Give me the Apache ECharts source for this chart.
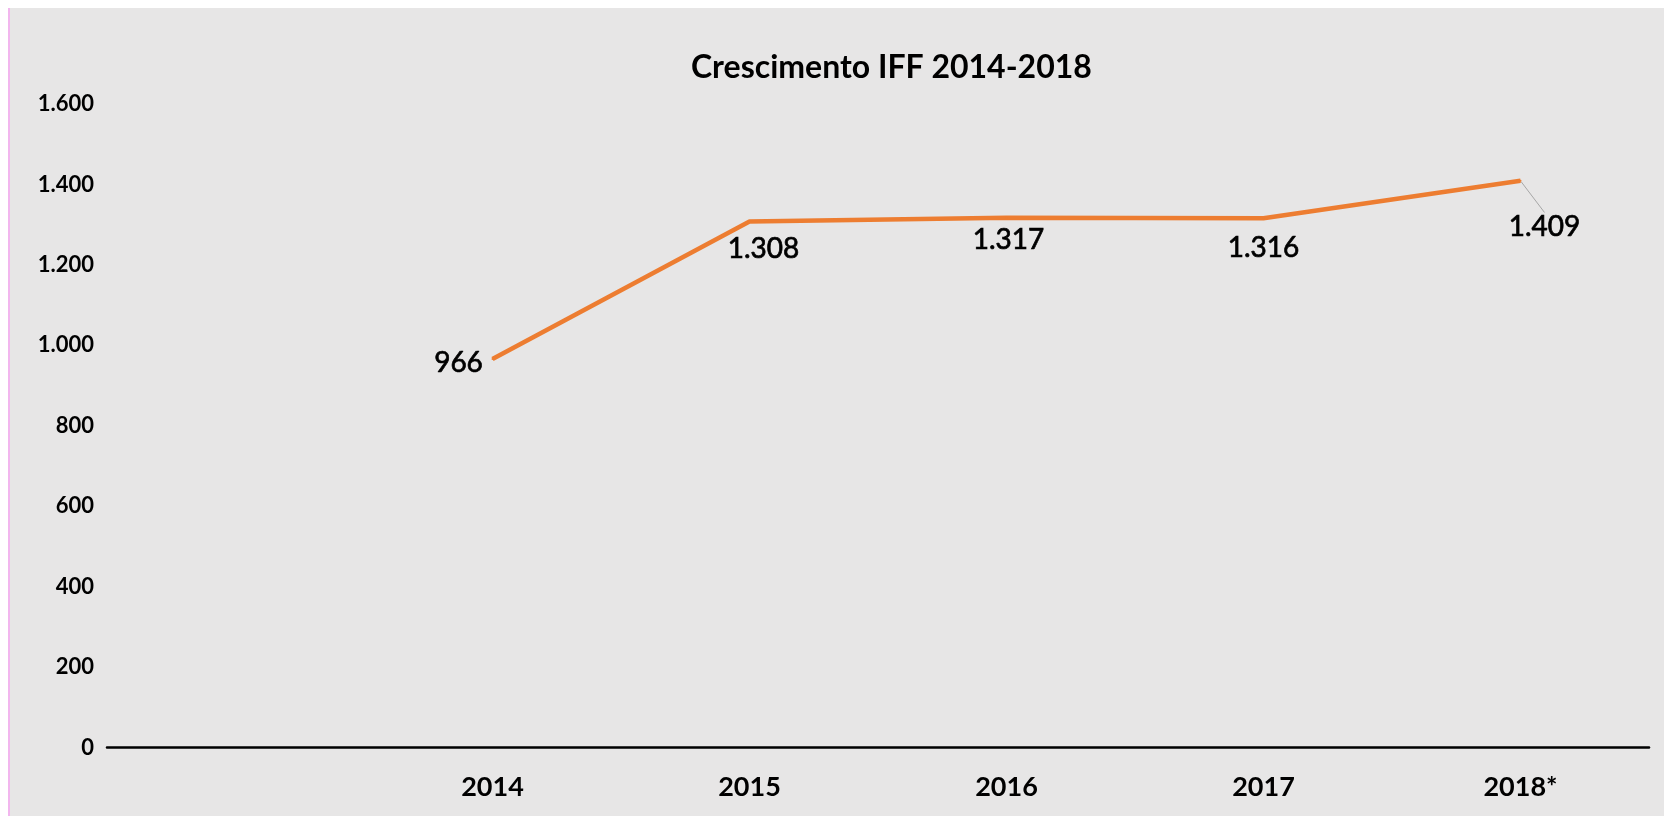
<!DOCTYPE html>
<html>
<head>
<meta charset="utf-8">
<script src="https://cdn.jsdelivr.net/npm/echarts@6/dist/echarts.min.js"></script>
<style>
  html, body { margin: 0; padding: 0; background: #ffffff; }
  #bg { position: absolute; left: 8px; top: 8px; right: 0; bottom: 0; background: #e7e6e6; border-left: 2px solid #f2b6ee; }
  #chart { position: absolute; left: 0; top: 0; width: 1664px; height: 816px; }
</style>
</head>
<body>
<div id="bg"></div>
<div id="chart"></div>
<script>
// ---- data ----
const titleText = 'Crescimento IFF 2014-2018';
const categories = ['', '2014', '2015', '2016', '2017', '2018*'];
const values = [null, 966, 1308, 1317, 1316, 1409];
const yTicks = { min: 0, max: 1600, interval: 200 };

// ---- label placement (offsets from each point, px) ----
const labelShift = [[0, 0], [-34, 4], [14, 28], [2, 22], [0, 30], [24, 46]];

function fmt(v) {
  return String(v).replace(/\B(?=(\d{3})+(?!\d))/g, '.');
}

const chart = echarts.init(document.getElementById('chart'), null, { renderer: 'canvas' });
chart.setOption({
  backgroundColor: 'transparent',
  animation: false,
  title: {
    text: titleText,
    left: 686,
    top: 47,
    textStyle: { fontFamily: 'Lato', fontWeight: 'bold', fontSize: 32, color: '#000' }
  },
  grid: { left: 107, right: 15, top: 104, bottom: 68.5, containLabel: false },
  xAxis: {
    type: 'category',
    data: categories,
    boundaryGap: true,
    axisLine: { show: true, lineStyle: { color: '#000', width: 2.5 } },
    axisTick: { show: false },
    splitLine: { show: false },
    axisLabel: { margin: 26, fontFamily: 'Lato', fontWeight: 'bold', fontSize: 27, color: '#000' }
  },
  yAxis: {
    type: 'value',
    min: yTicks.min, max: yTicks.max, interval: yTicks.interval,
    axisLine: { show: false },
    axisTick: { show: false },
    splitLine: { show: false },
    axisLabel: {
      margin: 13, fontFamily: 'Lato', fontWeight: 'bold', fontSize: 22, color: '#000',
      formatter: v => fmt(v)
    }
  },
  series: [{
    type: 'line',
    data: values.map((v, i) => ({
      value: v,
      labelLine: { show: i === values.length - 1, lineStyle: { color: '#a6a6a6', width: 1 } }
    })),
    symbol: 'circle',
    symbolSize: 2,
    itemStyle: { color: '#ed7d31' },
    lineStyle: { color: '#ed7d31', width: 4.5 },
    label: {
      show: true,
      position: 'inside',
      align: 'center',
      verticalAlign: 'middle',
      fontFamily: 'Lato', fontSize: 28, color: '#000',
      textBorderColor: '#000', textBorderWidth: 0.7,
      formatter: p => fmt(p.value)
    },
    labelLine: { show: false },
    labelLayout: p => ({ dx: labelShift[p.dataIndex][0], dy: labelShift[p.dataIndex][1] })
  }]
});
</script>
</body>
</html>
